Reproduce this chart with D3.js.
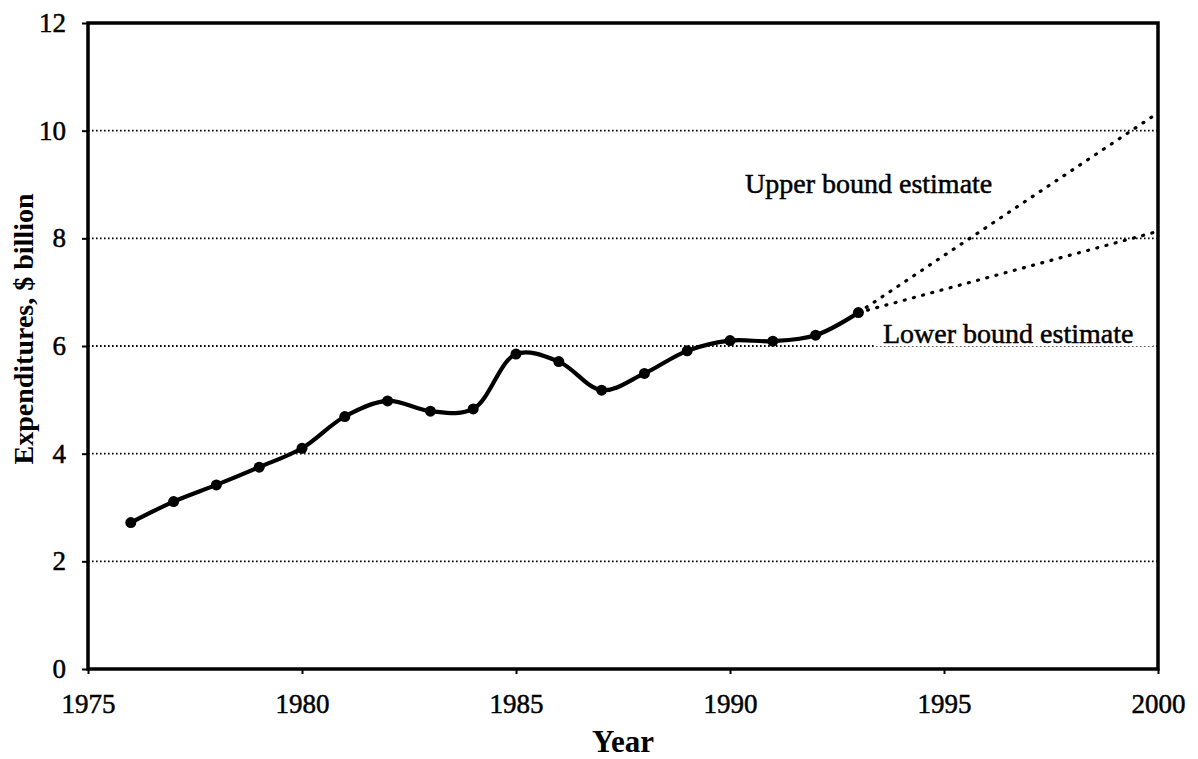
<!DOCTYPE html>
<html>
<head>
<meta charset="utf-8">
<script src="https://cdn.jsdelivr.net/npm/d3@7"></script>
<style>
  body { margin: 0; background: #fff; }
  text { font-family: "Liberation Serif", "Times New Roman", serif; fill: #000; }
</style>
</head>
<body>
<div id="chart"></div>
<script>
// data
var years = [1976, 1977, 1978, 1979, 1980, 1981, 1982, 1983, 1984, 1985, 1986, 1987, 1988, 1989, 1990, 1991, 1992, 1993];
var spending = [2.72, 3.11, 3.42, 3.75, 4.10, 4.69, 4.98, 4.79, 4.83, 5.85, 5.71, 5.18, 5.49, 5.91, 6.10, 6.09, 6.20, 6.62];
var upperYears = [1993, 2000];
var upperValues = [6.62, 10.33];
var lowerYears = [1993, 2000];
var lowerValues = [6.62, 8.13];
var xTicks = [1975, 1980, 1985, 1990, 1995, 2000];
var yTicks = [0, 2, 4, 6, 8, 10, 12];

var width = 1198;
var height = 759;
var plotLeft = 88, plotRight = 1158, plotTop = 23, plotBottom = 669;

var svg = d3.select("#chart")
    .append("svg")
    .attr("width", width)
    .attr("height", height);

var xScale = d3.scaleLinear()
    .domain([1975, 2000])
    .range([plotLeft, plotRight]);

var yScale = d3.scaleLinear()
    .domain([0, 12])
    .range([plotBottom, plotTop]);

// dotted grid lines
svg.append("g")
    .selectAll("line")
    .data(yTicks.filter(function(d) { return d > 0 && d < 12; }))
    .enter().append("line")
    .attr("x1", plotLeft)
    .attr("x2", plotRight)
    .attr("y1", function(d) { return yScale(d); })
    .attr("y2", function(d) { return yScale(d); })
    .attr("stroke", "#000")
    .attr("stroke-width", 1.8)
    .attr("stroke-dasharray", "1.6,2.4");

// axes
var x_axis = d3.axisBottom(xScale)
    .tickValues(xTicks)
    .tickSize(5)
    .tickPadding(20)
    .tickFormat(d3.format("d"));

var y_axis = d3.axisLeft(yScale)
    .tickValues(yTicks)
    .tickSize(6)
    .tickPadding(16);

var gx = svg.append("g")
    .attr("transform", "translate(0," + plotBottom + ")")
    .call(x_axis);

var gy = svg.append("g")
    .attr("transform", "translate(" + plotLeft + ",0)")
    .call(y_axis);

[gx, gy].forEach(function(g) {
    g.select(".domain").remove();
    g.selectAll(".tick line").attr("stroke", "#000").attr("stroke-width", 2);
    g.selectAll(".tick text")
        .style("font-family", "'Liberation Serif', serif")
        .style("font-size", "27px")
        .attr("fill", "#000")
        .attr("stroke", "#000")
        .attr("stroke-width", 0.5);
});

// frame
svg.append("rect")
    .attr("x", plotLeft)
    .attr("y", plotTop)
    .attr("width", plotRight - plotLeft)
    .attr("height", plotBottom - plotTop)
    .attr("fill", "none")
    .attr("stroke", "#000")
    .attr("stroke-width", 3.5);

// label for lower bound sits on a white box over the grid line
svg.append("rect")
    .attr("x", xScale(1993.4))
    .attr("y", yScale(6.55))
    .attr("width", 278)
    .attr("height", 30)
    .attr("fill", "#fff");

var proj = d3.line()
    .x(function(d) { return xScale(d[0]); })
    .y(function(d) { return yScale(d[1]); });

svg.append("path")
    .datum(d3.zip(upperYears, upperValues))
    .attr("d", proj)
    .attr("fill", "none")
    .attr("stroke", "#000")
    .attr("stroke-width", 3.2)
    .attr("stroke-linecap", "round")
    .attr("stroke-dasharray", "1,8.5");

svg.append("path")
    .datum(d3.zip(lowerYears, lowerValues))
    .attr("d", proj)
    .attr("fill", "none")
    .attr("stroke", "#000")
    .attr("stroke-width", 3.2)
    .attr("stroke-linecap", "round")
    .attr("stroke-dasharray", "1,8.5");

// main series
var pts = d3.zip(years, spending);

var line = d3.line()
    .curve(d3.curveCatmullRom.alpha(0.5))
    .x(function(d) { return xScale(d[0]); })
    .y(function(d) { return yScale(d[1]); });

svg.append("path")
    .datum(pts)
    .attr("d", line)
    .attr("fill", "none")
    .attr("stroke", "#000")
    .attr("stroke-width", 4.2);

svg.selectAll(".dot")
    .data(pts)
    .enter().append("circle")
    .attr("class", "dot")
    .attr("cx", function(d) { return xScale(d[0]); })
    .attr("cy", function(d) { return yScale(d[1]); })
    .attr("r", 5.5)
    .attr("fill", "#000");

// annotations
svg.append("text")
    .attr("x", 745)
    .attr("y", 193)
    .style("font-size", "28px")
    .attr("stroke", "#000")
    .attr("stroke-width", 0.5)
    .text("Upper bound estimate");

svg.append("text")
    .attr("x", 883)
    .attr("y", 343)
    .style("font-size", "28px")
    .attr("stroke", "#000")
    .attr("stroke-width", 0.5)
    .text("Lower bound estimate");

// axis titles
svg.append("text")
    .attr("x", 623)
    .attr("y", 752)
    .attr("text-anchor", "middle")
    .style("font-size", "31px")
    .style("font-weight", "bold")
    .text("Year");

svg.append("text")
    .attr("transform", "translate(33,329) rotate(-90)")
    .attr("text-anchor", "middle")
    .style("font-size", "28px")
    .style("font-weight", "bold")
    .text("Expenditures, $ billion");
</script>
</body>
</html>
